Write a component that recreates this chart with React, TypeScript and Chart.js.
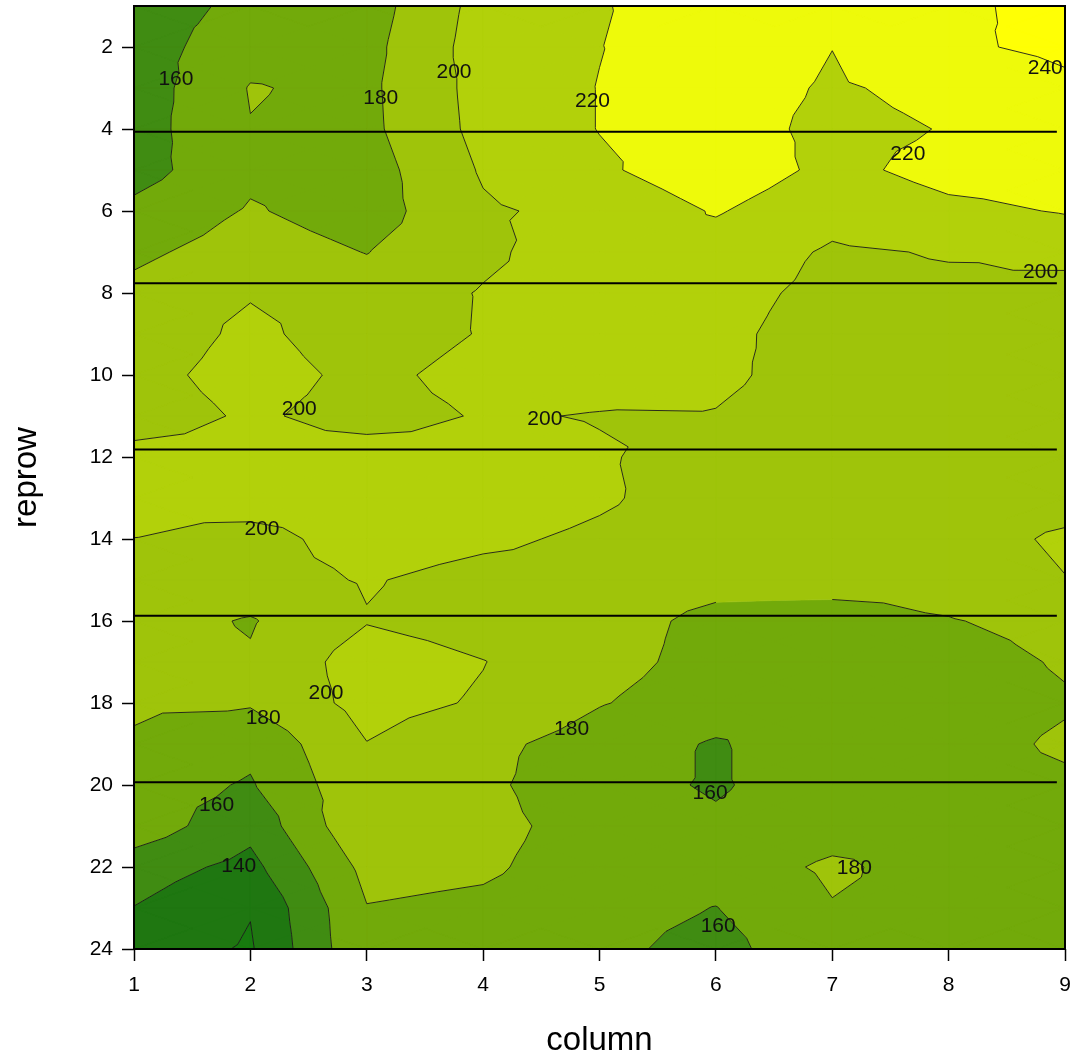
import { useEffect, useRef } from 'react';
import { Chart, registerables } from 'chart.js';

Chart.register(...registerables);

// Grid coordinates
const COLUMNS = [1, 2, 3, 4, 5, 6, 7, 8, 9];
const ROWS = [1, 2, 3, 4, 5, 6, 7, 8, 9, 10, 11, 12, 13, 14, 15, 16, 17, 18, 19, 20, 21, 22, 23, 24];

// Values: one array per reprow, one value per column
const VALUES: number[][] = [
  [150, 165, 171, 207, 218, 236, 238, 236, 246],
  [150, 173, 174, 209, 219.5, 232, 220.2, 237, 244],
  [149, 181, 176, 207, 220.5, 228, 218, 225, 236],
  [151, 179.4, 175.4, 206, 220.5, 228, 215.3, 220.8, 232],
  [152, 176, 171.4, 202, 217, 232, 215.3, 226, 228],
  [165, 181.7, 171, 197.5, 205.6, 221.5, 206.5, 216, 221],
  [176, 189, 179.5, 196, 212.7, 211.5, 197.7, 201.2, 209],
  [185, 198, 188, 201.3, 210, 206, 195.3, 196.4, 189],
  [182, 206.3, 184.6, 201.7, 210, 204, 192.6, 192, 190],
  [189.8, 212, 192.6, 209.8, 208, 203, 193.3, 192, 191],
  [185, 204, 190.2, 202, 199, 199.3, 192, 191, 190],
  [210, 210, 212, 208, 202, 191.5, 190, 190, 190],
  [206, 212, 214, 212, 203, 189, 188, 189, 192.3],
  [199.8, 191.3, 210.6, 204, 196, 188, 190, 191.5, 203],
  [196, 192, 201.5, 193, 192, 186, 190, 188, 199.5],
  [188, 178.5, 199, 192, 188, 175, 169, 179, 186],
  [188, 182, 210, 200.5, 186, 174, 168, 171.5, 182],
  [183, 182, 207, 198, 181, 171, 167, 170, 178],
  [177.6, 165, 199.5, 185, 171.5, 158, 174.7, 171.8, 183],
  [168.8, 158.2, 196, 184, 167, 158, 170.5, 172, 176.5],
  [171.7, 146.3, 198, 186, 171.7, 163, 172, 173, 174],
  [150, 134, 186, 183, 170, 170, 183, 172, 174],
  [139.5, 121, 179.3, 176, 168, 159.5, 179, 174, 175],
  [130, 118, 178, 172, 165.8, 152, 178, 175, 175],
];

const LEVELS = [120, 140, 160, 180, 200, 220, 240];
const BAND_COLORS = ['#177a0e', '#1f7711', '#408c12', '#72aa0a', '#9fc40a', '#b2d10a', '#eefa0a', '#ffff05'];

// Horizontal reference lines (reprow positions) and where they end
const LINE_ROWS = [4.07, 7.76, 11.82, 15.87, 19.93];
const LINE_START = 1;
const LINE_END = 8.93;

// Contour labels
const LABEL_TEXT = ['160', '180', '200', '220', '240', '220', '200', '200', '200', '200', '200', '180', '180', '160', '140', '160', '180', '160'];
const LABEL_X = [1.36, 3.12, 3.75, 4.94, 8.83, 7.65, 8.79, 2.42, 4.53, 2.1, 2.65, 2.11, 4.76, 1.71, 1.9, 5.95, 7.19, 6.02];
const LABEL_Y = [2.78, 3.25, 2.61, 3.32, 2.51, 4.61, 7.5, 10.84, 11.09, 13.75, 17.75, 18.36, 18.65, 20.49, 21.98, 20.19, 22.03, 23.44];

const X_TICKS = [1, 2, 3, 4, 5, 6, 7, 8, 9];
const Y_TICKS = [2, 4, 6, 8, 10, 12, 14, 16, 18, 20, 22, 24];

const FONT = '"Liberation Sans", Arial, sans-serif';

type P = { x: number; y: number; v: number };

function clip(poly: P[], level: number, keepAbove: boolean): P[] {
  const out: P[] = [];
  for (let i = 0; i < poly.length; i++) {
    const a = poly[i];
    const b = poly[(i + 1) % poly.length];
    const ina = keepAbove ? a.v >= level : a.v < level;
    const inb = keepAbove ? b.v >= level : b.v < level;
    if (ina) out.push(a);
    if (ina !== inb) {
      const t = (level - a.v) / (b.v - a.v);
      out.push({ x: a.x + t * (b.x - a.x), y: a.y + t * (b.y - a.y), v: level });
    }
  }
  return out;
}

function buildTriangles(): P[][] {
  const tris: P[][] = [];
  for (let r = 0; r < ROWS.length - 1; r++) {
    for (let c = 0; c < COLUMNS.length - 1; c++) {
      const A = { x: COLUMNS[c], y: ROWS[r], v: VALUES[r][c] };
      const B = { x: COLUMNS[c + 1], y: ROWS[r], v: VALUES[r][c + 1] };
      const C = { x: COLUMNS[c + 1], y: ROWS[r + 1], v: VALUES[r + 1][c + 1] };
      const D = { x: COLUMNS[c], y: ROWS[r + 1], v: VALUES[r + 1][c] };
      const E = {
        x: (A.x + B.x) / 2,
        y: (A.y + D.y) / 2,
        v: (A.v + B.v + C.v + D.v) / 4,
      };
      tris.push([A, B, E], [B, C, E], [C, D, E], [D, A, E]);
    }
  }
  return tris;
}

const contourPlugin = {
  id: 'contourFill',
  beforeDatasetsDraw(chart: any) {
    const { ctx, chartArea, scales } = chart;
    const xs = scales.x;
    const ys = scales.y;
    const px = (p: P) => xs.getPixelForValue(p.x);
    const py = (p: P) => ys.getPixelForValue(p.y);
    const tris = buildTriangles();
    ctx.save();
    ctx.beginPath();
    ctx.rect(chartArea.left, chartArea.top, chartArea.right - chartArea.left, chartArea.bottom - chartArea.top);
    ctx.clip();
    for (let k = 0; k <= LEVELS.length; k++) {
      const lo = k > 0 ? LEVELS[k - 1] : null;
      const hi = k < LEVELS.length ? LEVELS[k] : null;
      ctx.beginPath();
      let any = false;
      for (const t of tris) {
        let poly: P[] = t;
        if (lo !== null) poly = clip(poly, lo, true);
        if (poly.length < 3) continue;
        if (hi !== null) poly = clip(poly, hi, false);
        if (poly.length < 3) continue;
        any = true;
        ctx.moveTo(px(poly[0]), py(poly[0]));
        for (let i = 1; i < poly.length; i++) ctx.lineTo(px(poly[i]), py(poly[i]));
        ctx.closePath();
      }
      if (any) {
        ctx.fillStyle = BAND_COLORS[k];
        ctx.fill('nonzero');
        ctx.strokeStyle = BAND_COLORS[k];
        ctx.lineWidth = 0.6;
        ctx.stroke();
      }
    }
    // contour lines
    ctx.beginPath();
    for (const L of LEVELS) {
      for (const t of tris) {
        const pts: { x: number; y: number }[] = [];
        for (let i = 0; i < 3; i++) {
          const a = t[i];
          const b = t[(i + 1) % 3];
          if ((a.v - L) * (b.v - L) < 0) {
            const s = (L - a.v) / (b.v - a.v);
            pts.push({ x: a.x + s * (b.x - a.x), y: a.y + s * (b.y - a.y) });
          }
        }
        if (pts.length === 2) {
          ctx.moveTo(xs.getPixelForValue(pts[0].x), ys.getPixelForValue(pts[0].y));
          ctx.lineTo(xs.getPixelForValue(pts[1].x), ys.getPixelForValue(pts[1].y));
        }
      }
    }
    ctx.strokeStyle = 'rgba(25,25,25,0.9)';
    ctx.lineWidth = 1;
    ctx.stroke();
    ctx.restore();
  },
  afterDatasetsDraw(chart: any) {
    const { ctx, scales } = chart;
    ctx.save();
    ctx.font = '21px ' + FONT;
    ctx.textAlign = 'center';
    ctx.textBaseline = 'middle';
    ctx.fillStyle = '#111';
    for (let i = 0; i < LABEL_TEXT.length; i++) {
      ctx.fillText(LABEL_TEXT[i], scales.x.getPixelForValue(LABEL_X[i]), scales.y.getPixelForValue(LABEL_Y[i]));
    }
    ctx.restore();
  },
  afterDraw(chart: any) {
    const { ctx, chartArea } = chart;
    ctx.save();
    ctx.strokeStyle = '#000';
    ctx.lineWidth = 2;
    ctx.strokeRect(chartArea.left, chartArea.top, chartArea.right - chartArea.left, chartArea.bottom - chartArea.top);
    ctx.restore();
  },
};

const zeroPad = (s: any) => {
  s.paddingLeft = 0;
  s.paddingRight = 0;
  s.paddingTop = 0;
  s.paddingBottom = 0;
};

export default function App() {
  const ref = useRef<HTMLCanvasElement | null>(null);
  useEffect(() => {
    if (!ref.current) return;
    const chart = new Chart(ref.current, {
      type: 'scatter',
      data: {
        datasets: LINE_ROWS.map((r) => ({
          data: [
            { x: LINE_START, y: r },
            { x: LINE_END, y: r },
          ],
          showLine: true,
          borderColor: '#000',
          borderWidth: 2,
          pointRadius: 0,
          pointHoverRadius: 0,
        })),
      },
      options: {
        animation: false,
        responsive: false,
        devicePixelRatio: 1,
        layout: { padding: { top: 6, right: 5, left: 0, bottom: 0 } },
        plugins: { legend: { display: false }, tooltip: { enabled: false } },
        scales: {
          x: {
            type: 'linear',
            min: 1,
            max: 9,
            afterBuildTicks: (s: any) => {
              s.ticks = X_TICKS.map((v) => ({ value: v }));
            },
            afterFit: (s: any) => {
              s.height = 109;
              zeroPad(s);
            },
            grid: { display: true, drawOnChartArea: false, drawTicks: true, tickLength: 12, tickColor: '#000', tickWidth: 1.5 },
            border: { display: false },
            ticks: { color: '#000', font: { size: 21, family: FONT }, padding: 12, maxRotation: 0, autoSkip: false },
            title: { display: true, text: 'column', color: '#000', font: { size: 33, family: FONT }, padding: { top: 0, bottom: -3 } },
          },
          y: {
            type: 'linear',
            min: 1,
            max: 24,
            reverse: true,
            afterBuildTicks: (s: any) => {
              s.ticks = Y_TICKS.map((v) => ({ value: v }));
            },
            afterFit: (s: any) => {
              s.width = 134;
              zeroPad(s);
            },
            grid: { display: true, drawOnChartArea: false, drawTicks: true, tickLength: 12, tickColor: '#000', tickWidth: 1.5 },
            border: { display: false },
            ticks: { color: '#000', font: { size: 21, family: FONT }, padding: 9, autoSkip: false },
            title: { display: true, text: 'reprow', color: '#000', font: { size: 33, family: FONT }, padding: { top: 7, bottom: 0 } },
          },
        },
      },
      plugins: [contourPlugin],
    } as any);
    return () => chart.destroy();
  }, []);
  return (
    <div style={{ position: 'absolute', left: 0, top: 0, width: 1070, height: 1058, background: '#fff' }}>
      <canvas ref={ref} width={1070} height={1058} style={{ display: 'block' }} />
    </div>
  );
}
